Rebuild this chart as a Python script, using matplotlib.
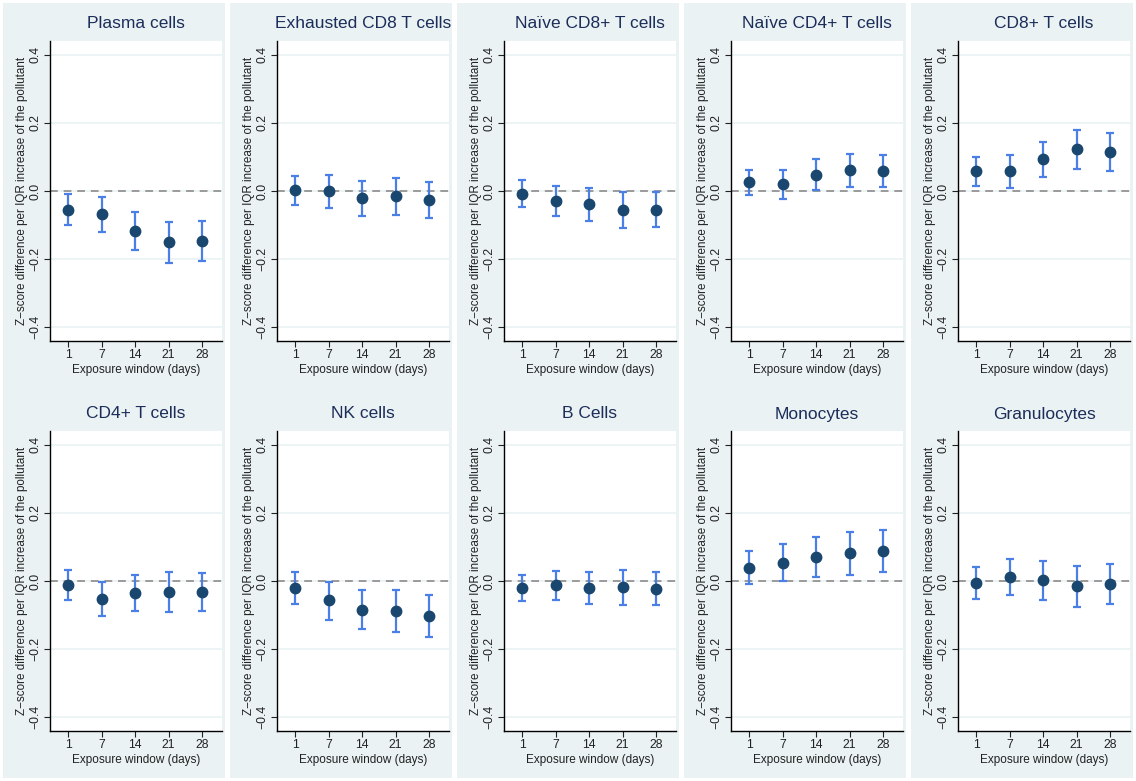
import matplotlib
matplotlib.use('Agg')
import matplotlib.pyplot as plt
from matplotlib.patches import Rectangle

plt.rcParams['font.family'] = ['Liberation Sans', 'DejaVu Sans']

windows = ['1', '7', '14', '21', '28']

cell_types = ['Plasma cells', 'Exhausted CD8 T cells', 'Naïve CD8+ T cells',
              'Naïve CD4+ T cells', 'CD8+ T cells', 'CD4+ T cells', 'NK cells',
              'B Cells', 'Monocytes', 'Granulocytes']

# point estimates per cell type (exposure windows 1,7,14,21,28 days)
plasma_est = [-0.055, -0.068, -0.118, -0.151, -0.147]
plasma_lo = [-0.101, -0.119, -0.174, -0.210, -0.205]
plasma_hi = [-0.010, -0.017, -0.062, -0.092, -0.088]

exh_cd8_est = [0.003, 0.000, -0.021, -0.016, -0.026]
exh_cd8_lo = [-0.040, -0.049, -0.072, -0.070, -0.080]
exh_cd8_hi = [0.045, 0.047, 0.030, 0.039, 0.027]

naive_cd8_est = [-0.008, -0.029, -0.039, -0.057, -0.055]
naive_cd8_lo = [-0.048, -0.074, -0.087, -0.109, -0.106]
naive_cd8_hi = [0.031, 0.016, 0.010, -0.004, -0.004]

naive_cd4_est = [0.026, 0.020, 0.048, 0.061, 0.059]
naive_cd4_lo = [-0.011, -0.023, 0.002, 0.012, 0.011]
naive_cd4_hi = [0.063, 0.061, 0.094, 0.109, 0.106]

cd8_est = [0.059, 0.059, 0.093, 0.122, 0.115]
cd8_lo = [0.016, 0.010, 0.042, 0.066, 0.060]
cd8_hi = [0.101, 0.107, 0.144, 0.178, 0.169]

cd4_est = [-0.011, -0.052, -0.035, -0.032, -0.032]
cd4_lo = [-0.056, -0.103, -0.089, -0.091, -0.089]
cd4_hi = [0.033, -0.002, 0.019, 0.026, 0.024]

nk_est = [-0.021, -0.057, -0.084, -0.089, -0.102]
nk_lo = [-0.068, -0.113, -0.142, -0.151, -0.164]
nk_hi = [0.026, -0.002, -0.025, -0.027, -0.041]

b_est = [-0.021, -0.013, -0.021, -0.019, -0.022]
b_lo = [-0.060, -0.057, -0.068, -0.070, -0.071]
b_hi = [0.018, 0.030, 0.025, 0.031, 0.027]

mono_est = [0.039, 0.054, 0.071, 0.081, 0.089]
mono_lo = [-0.009, -0.001, 0.013, 0.019, 0.026]
mono_hi = [0.087, 0.108, 0.128, 0.144, 0.151]

gran_est = [-0.007, 0.013, 0.003, -0.016, -0.008]
gran_lo = [-0.054, -0.040, -0.055, -0.077, -0.067]
gran_hi = [0.040, 0.066, 0.060, 0.045, 0.051]

estimates = [plasma_est, exh_cd8_est, naive_cd8_est, naive_cd4_est, cd8_est,
             cd4_est, nk_est, b_est, mono_est, gran_est]
lowers = [plasma_lo, exh_cd8_lo, naive_cd8_lo, naive_cd4_lo, cd8_lo,
          cd4_lo, nk_lo, b_lo, mono_lo, gran_lo]
uppers = [plasma_hi, exh_cd8_hi, naive_cd8_hi, naive_cd4_hi, cd8_hi,
          cd4_hi, nk_hi, b_hi, mono_hi, gran_hi]

W, H = 1136, 781
BG = '#eaf2f3'
POINT = '#1a476f'
BAR = '#4a7fe6'

fig = plt.figure(figsize=(W / 100, H / 100), dpi=100)
fig.patch.set_facecolor('white')

for k, name in enumerate(cell_types):
    row, col = divmod(k, 5)
    # grey panel background
    px0 = 3 + 227 * col
    py0 = 3 if row == 0 else 388
    py1 = 388 if row == 0 else 778
    fig.patches.append(Rectangle((px0 / W, 1 - py1 / H), 222 / W, (py1 - py0) / H,
                                 transform=fig.transFigure, facecolor=BG,
                                 edgecolor='none', zorder=-10))

    left = 50 + 227 * col
    top = 41 + 390 * row
    ax = fig.add_axes([left / W, 1 - (top + 300) / H, 172 / W, 300 / H])
    ax.set_zorder(5)
    ax.set_facecolor('white')

    x = list(range(len(windows)))
    est = estimates[k]
    yerr = [[e - lo for e, lo in zip(est, lowers[k])],
            [hi - e for e, hi in zip(est, uppers[k])]]

    ax.axhline(0, color='#9a9a9a', lw=1.4, ls=(0, (4, 3)), zorder=1)
    ax.errorbar(x, est, yerr=yerr, fmt='none', ecolor=BAR, elinewidth=1.6,
                capsize=2.6, capthick=1.6, zorder=2)
    ax.plot(x, est, 'o', color=POINT, ms=7.5, zorder=3)

    ax.set_xlim(-0.55, 4.6)
    ax.set_ylim(-0.44, 0.44)
    ax.set_yticks([-0.4, -0.2, 0.0, 0.2, 0.4])
    ax.set_yticklabels(['\u22120.4', '\u22120.2', '0.0', '0.2', '0.4'],
                       rotation=90, va='center')
    ax.set_xticks(x)
    ax.set_xticklabels(windows)
    ax.tick_params(labelsize=8.8, length=4, width=0.8, colors='#222222', pad=2)
    ax.grid(axis='y', color=BG, lw=1.2)
    ax.set_axisbelow(True)
    ax.spines['top'].set_visible(False)
    ax.spines['right'].set_visible(False)
    ax.spines['left'].set_linewidth(1.0)
    ax.spines['bottom'].set_linewidth(1.0)

    ax.set_title(name, fontsize=12.5, color='#1c2d5a', pad=9)
    ax.set_xlabel('Exposure window (days)', fontsize=8.5, color='#222222', labelpad=2)
    ax.set_ylabel('Z\u2212score difference per IQR increase of the pollutant',
                  fontsize=8.4, color='#222222', labelpad=1)

fig.savefig('out.png', dpi=100, facecolor=fig.get_facecolor())
